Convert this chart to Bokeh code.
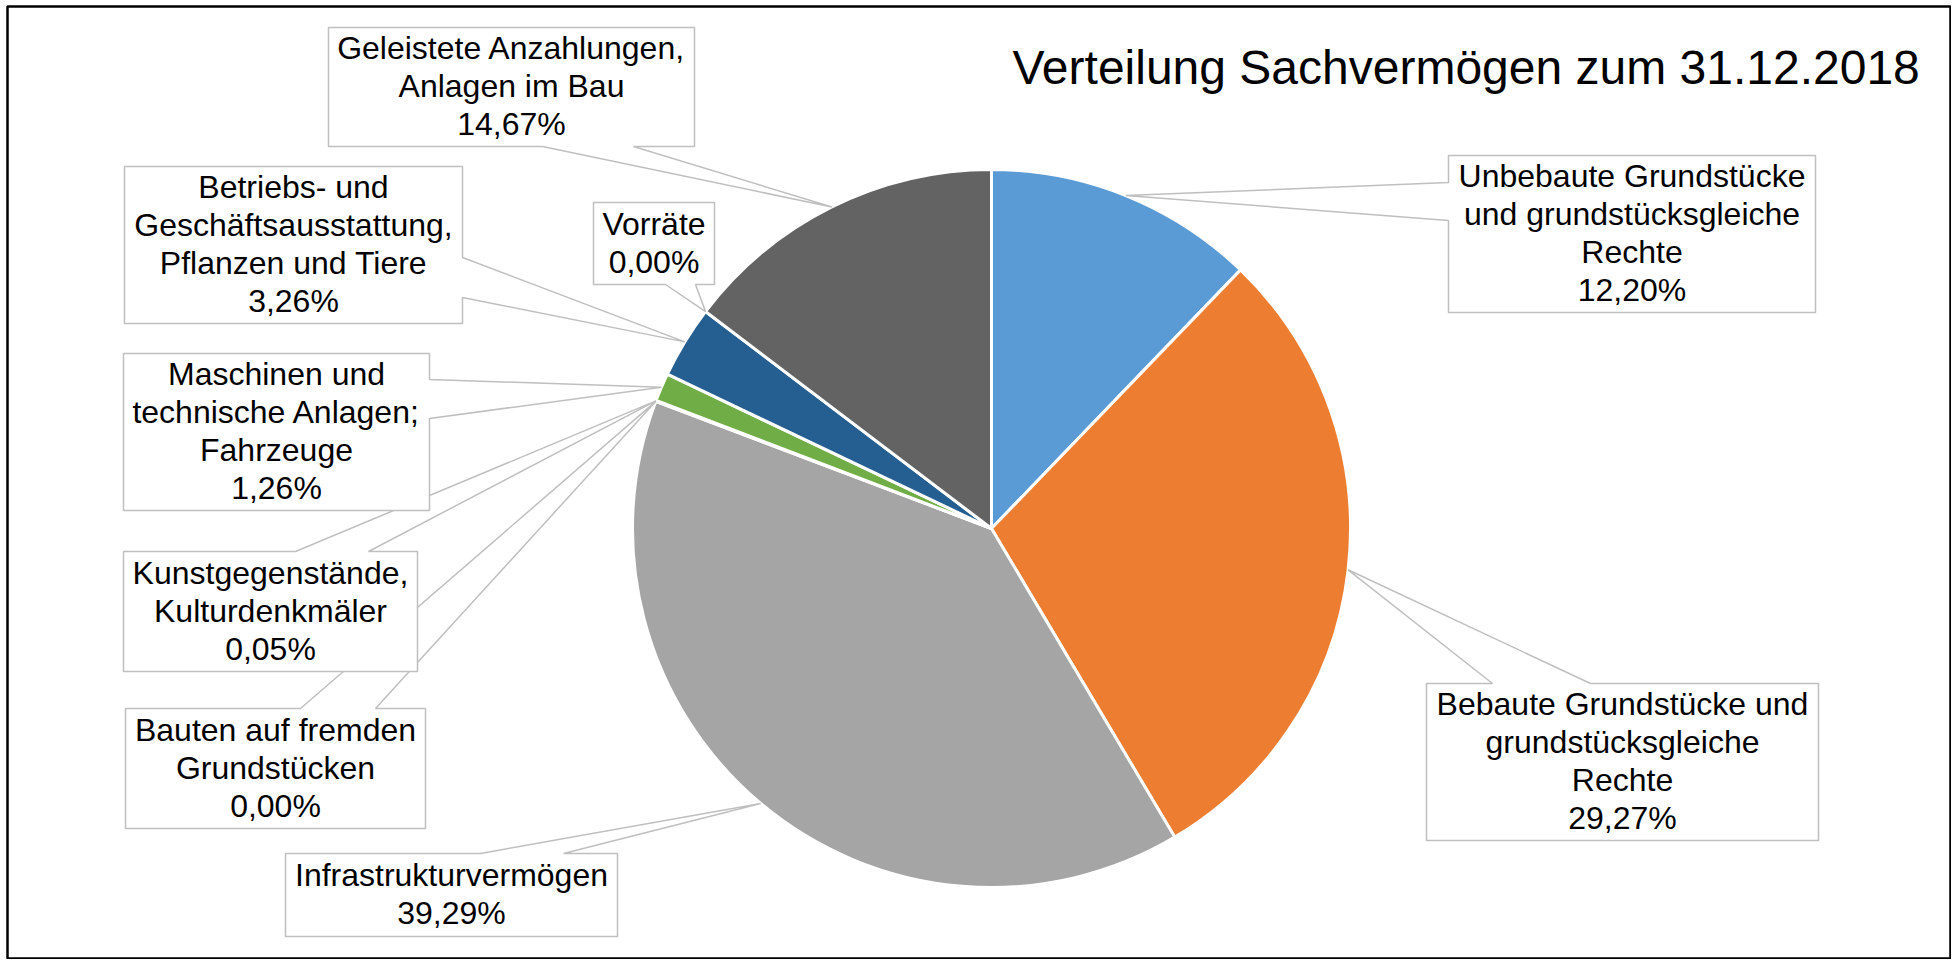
import math
from bokeh.plotting import figure
from bokeh.models import Range1d, ColumnDataSource
from bokeh.embed import file_html
from bokeh.resources import INLINE
from bokeh.core.properties import value

# ---------------- data ----------------
categories = [
    "Unbebaute Grundstücke\nund grundstücksgleiche\nRechte",
    "Bebaute Grundstücke und\ngrundstücksgleiche\nRechte",
    "Infrastrukturvermögen",
    "Bauten auf fremden\nGrundstücken",
    "Kunstgegenstände,\nKulturdenkmäler",
    "Maschinen und\ntechnische Anlagen;\nFahrzeuge",
    "Betriebs- und\nGeschäftsausstattung,\nPflanzen und Tiere",
    "Vorräte",
    "Geleistete Anzahlungen,\nAnlagen im Bau",
]
shares = [12.20, 29.27, 39.29, 0.00, 0.05, 1.26, 3.26, 0.00, 14.67]
colors = ["#5B9BD5", "#ED7D31", "#A5A5A5", "#FFC000", "#4472C4",
          "#70AD47", "#255E91", "#9E480E", "#636363"]
title_text = "Verteilung Sachvermögen zum 31.12.2018"

# ---------------- layout (picture pixel coordinates) ----------------
W, H = 1951, 959
BL, BT = 7, 6          # frame (border) offset left / top
CX, CY, R = 991, 528, 359
FONT = "Liberation Sans"
LABEL_SIZE = 32
LINE_H = 38

callouts = [
    dict(box=(1448, 155, 1815, 312), side="left", base=(182, 220)),
    dict(box=(1426, 683, 1818, 840), side="top", base=(1492, 1590)),
    dict(box=(285, 853, 617, 936), side="top", base=(480, 563)),
    dict(box=(125, 708, 425, 828), side="top", base=(300, 375)),
    dict(box=(123, 551, 417, 671), side="top", base=(295, 368)),
    dict(box=(123, 353, 429, 510), side="right", base=(379, 418)),
    dict(box=(124, 166, 462, 323), side="right", base=(257, 297)),
    dict(box=(593, 202, 714, 284), side="bottom", base=(665, 695)),
    dict(box=(328, 27, 694, 146), side="bottom", base=(542, 633)),
]


def fy(y):
    return H - y


p = figure(width=W, height=H, x_range=Range1d(BL, W), y_range=Range1d(0, H - BT),
           output_backend="svg", toolbar_location=None,
           min_border_left=BL, min_border_top=BT, min_border_right=0, min_border_bottom=0)
p.axis.visible = False
p.grid.visible = False
p.outline_line_color = "black"
p.outline_line_width = 2.5
p.background_fill_color = "white"
p.border_fill_color = "white"

# ---------------- wedges ----------------
total = sum(shares)
cum = 0.0
starts, ends, mids = [], [], []
for v in shares:
    t0 = cum / total * 2 * math.pi
    cum += v
    t1 = cum / total * 2 * math.pi
    starts.append(t0)
    ends.append(t1)
    mids.append((t0 + t1) / 2)

wsrc = dict(x=[], y=[], s=[], e=[], c=[])
for v, t0, t1, c in zip(shares, starts, ends, colors):
    if v <= 0:
        continue
    wsrc["x"].append(CX)
    wsrc["y"].append(fy(CY))
    wsrc["s"].append(math.pi / 2 - t1)
    wsrc["e"].append(math.pi / 2 - t0)
    wsrc["c"].append(c)
p.wedge(x="x", y="y", radius=R, start_angle="s", end_angle="e", direction="anticlock",
        fill_color="c", line_color="white", line_width=3, source=ColumnDataSource(wsrc))

# ---------------- callouts ----------------
for cat, v, tm, co in zip(categories, shares, mids, callouts):
    ax = CX + R * math.sin(tm)
    ay = CY - R * math.cos(tm)
    x0, y0, x1, y1 = co["box"]
    b1, b2 = co["base"]
    side = co["side"]
    pts = [(x0, y0)]
    if side == "top":
        pts += [(b1, y0), (ax, ay), (b2, y0)]
    pts.append((x1, y0))
    if side == "right":
        pts += [(x1, b1), (ax, ay), (x1, b2)]
    pts.append((x1, y1))
    if side == "bottom":
        pts += [(b2, y1), (ax, ay), (b1, y1)]
    pts.append((x0, y1))
    if side == "left":
        pts += [(x0, b2), (ax, ay), (x0, b1)]
    p.patch([q[0] for q in pts], [fy(q[1]) for q in pts], fill_color="white",
            line_color="#BFBFBF", line_width=1.5)

    lines = cat.split("\n") + [("%.2f" % v).replace(".", ",") + "%"]
    n = len(lines)
    xc = (x0 + x1) / 2
    yc = (y0 + y1) / 2 - 1
    p.text(x=[xc] * n, y=[fy(yc + (i - (n - 1) / 2) * LINE_H) for i in range(n)], text=lines,
           text_align="center", text_baseline="middle", text_color="black",
           text_font=value(FONT), text_font_size="%gpx" % LABEL_SIZE)

# ---------------- title ----------------
p.text(x=[1012], y=[fy(67)], text=[title_text], text_align="left", text_baseline="middle",
       text_color="black", text_font=value(FONT), text_font_size="48px")

open("out.html", "w").write(file_html(p, INLINE))
